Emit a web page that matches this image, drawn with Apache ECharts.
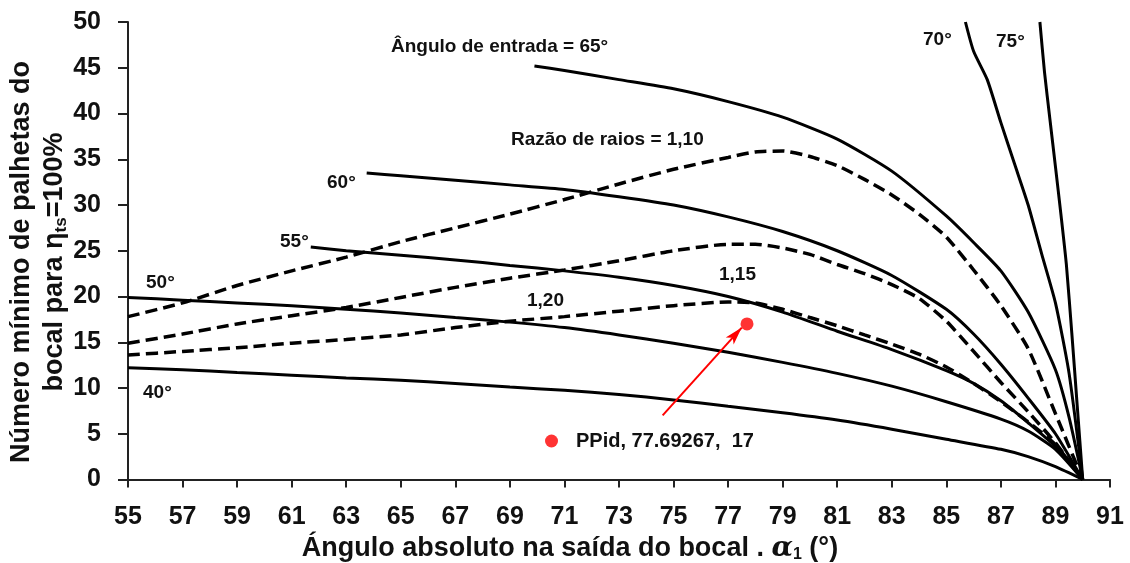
<!DOCTYPE html>
<html>
<head>
<meta charset="utf-8">
<script src="https://cdn.jsdelivr.net/npm/echarts@6/dist/echarts.min.js"></script>
<style>
  html, body { margin: 0; padding: 0; background: #fff; }
  #main { width: 1130px; height: 563px; }
</style>
</head>
<body>
<div id="main"></div>
<script>
// tick labels
var xTicks = [55, 57, 59, 61, 63, 65, 67, 69, 71, 73, 75, 77, 79, 81, 83, 85, 87, 89, 91];

// solid curves: angulo de entrada
var x40 = [55, 57, 59, 61, 63, 65, 67, 69, 71, 73, 75, 77, 79, 81, 83, 85, 87, 88, 89, 90];
var y40 = [12.2, 12.0, 11.7, 11.4, 11.1, 10.85, 10.5, 10.1, 9.75, 9.3, 8.7, 8.0, 7.3, 6.5, 5.5, 4.4, 3.3, 2.5, 1.4, 0];

var x50 = [55, 57, 59, 61, 63, 65, 67, 69, 71, 73, 75, 77, 79, 81, 83, 85, 87, 88, 89, 90];
var y50 = [19.9, 19.6, 19.3, 19.0, 18.6, 18.2, 17.7, 17.2, 16.6, 15.8, 14.9, 13.9, 12.8, 11.6, 10.2, 8.5, 6.6, 5.3, 3.3, 0];

var x55 = [61.7, 63, 65, 67, 69, 71, 73, 75, 77, 79, 81, 83, 85, 86, 87, 88, 89, 90];
var y55 = [25.4, 25.0, 24.5, 24.0, 23.4, 22.8, 22.1, 21.2, 20.0, 18.3, 16.2, 14.2, 11.9, 10.5, 8.6, 6.2, 3.6, 0];

var x60 = [63.75, 65, 67, 69, 71, 73, 75, 77, 79, 81, 83, 85, 86, 87, 88, 89, 90];
var y60 = [33.5, 33.2, 32.7, 32.2, 31.7, 30.9, 30.0, 28.7, 27.1, 25.0, 22.3, 18.6, 15.9, 12.6, 8.9, 5.0, 0];

var x65 = [69.9, 71, 73, 75, 77, 79, 81, 83, 85, 86, 87, 88, 89, 89.5, 90];
var y65 = [45.2, 44.7, 43.7, 42.7, 41.3, 39.6, 37.2, 33.7, 28.8, 25.9, 22.8, 18.3, 12.0, 6.8, 0];

var x70 = [85.7, 86, 86.5, 87, 87.5, 88, 88.5, 89, 89.5, 90];
var y70 = [50, 46.8, 43.7, 39.0, 34.5, 30.0, 24.6, 19.3, 11.6, 0];

var x75 = [88.43, 88.6, 88.8, 89.0, 89.2, 89.4, 89.6, 89.8, 90];
var y75 = [50, 44.5, 39.3, 34.2, 29.0, 23.5, 16.0, 8.0, 0];

// dashed curves: razao de raios
var xR = [55, 57, 59, 61, 63, 65, 67, 69, 71, 73, 75, 77, 78, 79, 80, 81, 82, 83, 84, 85, 86, 87, 88, 89, 90];
var y110 = [17.8, 19.3, 21.2, 22.8, 24.3, 26.0, 27.5, 29.0, 30.6, 32.3, 33.9, 35.2, 35.8, 35.9, 35.3, 34.3, 32.8, 31.1, 29.0, 26.5, 22.9, 19.0, 14.3, 7.2, 0];
var y115 = [14.9, 15.9, 17.0, 17.9, 18.8, 19.9, 21.0, 22.0, 22.9, 23.9, 25.0, 25.7, 25.7, 25.3, 24.6, 23.5, 22.5, 21.3, 19.8, 17.3, 14.0, 10.6, 7.4, 4.0, 0];
var y120 = [13.6, 14.0, 14.4, 14.9, 15.3, 15.8, 16.6, 17.3, 17.8, 18.4, 19.0, 19.4, 19.3, 18.6, 17.7, 16.8, 15.8, 14.8, 13.7, 12.3, 10.5, 8.5, 6.3, 3.8, 0];

// ponto de projeto
var ppX = [77.69267];
var ppY = [17];
var arrowFrom = [74.6, 7.0];
var arrowTo = [77.5, 16.6];

var FONT = '"Liberation Sans", Arial, sans-serif';

function curve(name, xs, ys, dashed) {
    return {
        name: name,
        type: 'line',
        data: xs.map(function (x, i) { return [x, ys[i]]; }),
        symbol: 'none',
        smooth: 0.2,
        silent: true,
        lineStyle: { color: '#000', width: dashed ? 3.5 : 3, type: dashed ? [12, 6] : 'solid' },
        z: dashed ? 3 : 2
    };
}

function label(text, x, y) {
    return {
        type: 'text', x: x, y: y,
        style: { text: text, font: 'bold 19px ' + FONT, fill: '#111', verticalAlign: 'middle' }
    };
}

var chart = echarts.init(document.getElementById('main'));

chart.setOption({
    animation: false,
    backgroundColor: '#fff',
    grid: { left: 128, right: 20, top: 22, bottom: 83.5 },
    legend: {
        data: ['PPid'],
        left: 545, top: 431, padding: 0,
        icon: 'circle',
        itemWidth: 13, itemHeight: 13,
        formatter: function (n) { return n + ', ' + ppX[0] + ',  ' + ppY[0]; },
        textStyle: { fontFamily: FONT, fontWeight: 'bold', fontSize: 20, color: '#111', padding: [0, 0, 0, 13] }
    },
    xAxis: {
        type: 'value', min: 55, max: 91,
        axisLine: { lineStyle: { color: '#222', width: 2 } },
        axisTick: { show: true, length: 8, customValues: xTicks, lineStyle: { color: '#222', width: 2 } },
        axisLabel: { customValues: xTicks, margin: 25, fontFamily: FONT, fontWeight: 'bold', fontSize: 25, color: '#111' },
        splitLine: { show: false }
    },
    yAxis: {
        type: 'value', min: 0, max: 50, interval: 5,
        axisLine: { show: true, lineStyle: { color: '#222', width: 2 } },
        axisTick: { show: true, length: 10, lineStyle: { color: '#222', width: 2 } },
        axisLabel: { margin: 27, fontFamily: FONT, fontWeight: 'bold', fontSize: 25, color: '#111' },
        splitLine: { show: false }
    },
    graphic: [
        label('Ângulo de entrada = 65°', 391, 47),
        label('Razão de raios = 1,10', 511, 140),
        label('60°', 327, 183),
        label('55°', 280, 242),
        label('50°', 146, 283),
        label('40°', 143, 393),
        label('1,15', 719, 275),
        label('1,20', 527, 301),
        label('70°', 923, 40),
        label('75°', 996, 42),
        {
            type: 'text', x: 570, y: 549,
            style: {
                text: 'Ángulo absoluto na saída do bocal . {g|α}{s|1} (°)',
                font: 'bold 27px ' + FONT, fill: '#111', align: 'center', verticalAlign: 'middle',
                rich: {
                    g: { font: 'italic bold 28px "DejaVu Serif", serif', fill: '#111' },
                    s: { font: 'bold 16px ' + FONT, fill: '#111', padding: [12, 0, 0, 0] }
                }
            }
        },
        {
            type: 'text', x: 22, y: 262, rotation: Math.PI / 2,
            style: {
                text: 'Número mínimo de palhetas do',
                font: 'bold 27px ' + FONT, fill: '#111', align: 'center', verticalAlign: 'middle'
            }
        },
        {
            type: 'text', x: 55, y: 262, rotation: Math.PI / 2,
            style: {
                text: 'bocal para η{s|ts}=100%',
                font: 'bold 27px ' + FONT, fill: '#111', align: 'center', verticalAlign: 'middle',
                rich: { s: { font: 'bold 17px ' + FONT, fill: '#111', padding: [12, 0, 0, 0] } }
            }
        }
    ],
    series: [
        curve('40°', x40, y40, false),
        curve('50°', x50, y50, false),
        curve('55°', x55, y55, false),
        curve('60°', x60, y60, false),
        curve('65°', x65, y65, false),
        curve('70°', x70, y70, false),
        curve('75°', x75, y75, false),
        curve('1,10', xR, y110, true),
        curve('1,15', xR, y115, true),
        curve('1,20', xR, y120, true),
        {
            name: 'PPid',
            type: 'scatter',
            data: ppX.map(function (x, i) { return [x, ppY[i]]; }),
            symbol: 'circle',
            symbolSize: 13,
            itemStyle: { color: '#ff0000' },
            z: 5,
            markLine: {
                silent: true,
                symbol: ['none', 'arrow'],
                symbolSize: [8, 18],
                label: { show: false },
                lineStyle: { color: '#ff0000', width: 2, type: 'solid' },
                data: [[{ coord: arrowFrom }, { coord: arrowTo }]]
            }
        }
    ]
});
</script>
</body>
</html>
